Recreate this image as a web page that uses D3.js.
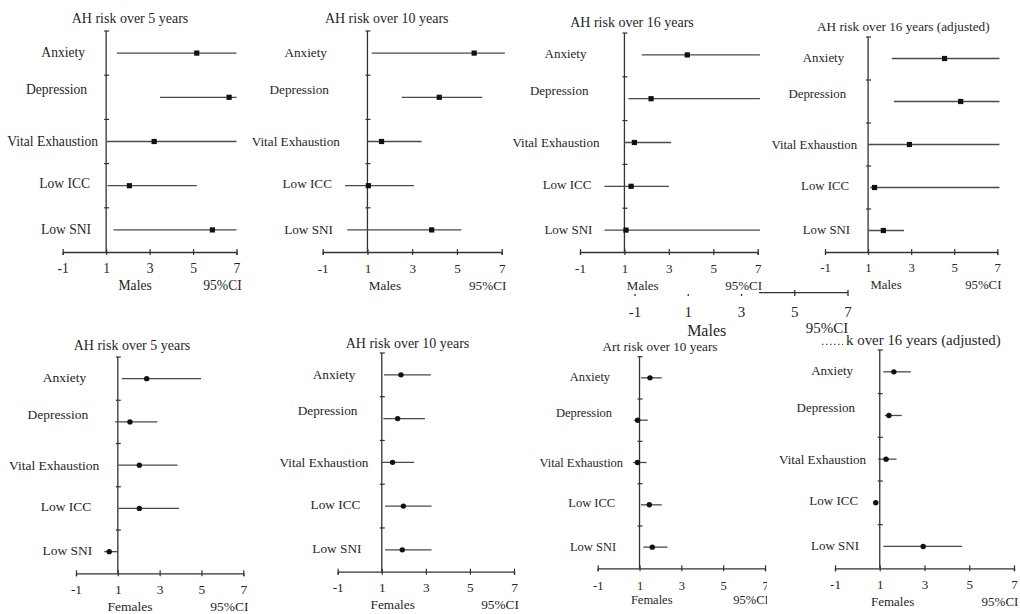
<!DOCTYPE html>
<html>
<head>
<meta charset="utf-8">
<script src="https://cdn.jsdelivr.net/npm/d3@7"></script>
<style>
  body { margin: 0; background: #fff; }
  svg { display: block; }
</style>
</head>
<body>
<div id="chart"></div>
<script>
// categories and axis ticks
const categories = ["Anxiety", "Depression", "Vital Exhaustion", "Low ICC", "Low SNI"];
const tickValues = [-1, 1, 3, 5, 7];

// males, point estimate / lower / upper 95% CI
const m5Est = [5.17, 6.66, 3.21, 2.07, 5.89];
const m5Lo  = [1.49, 3.48, 1.03, 1.06, 1.34];
const m5Hi  = [7.0, 7.0, 7.0, 5.17, 7.0];

const m10Est = [5.77, 4.21, 1.63, 1.04, 3.87];
const m10Lo  = [1.19, 2.53, 1.0, 0.0, 0.1];
const m10Hi  = [7.14, 6.13, 3.42, 3.08, 5.2];

const m16Est = [3.83, 2.2, 1.45, 1.3, 1.07];
const m16Lo  = [1.78, 1.18, 1.0, 0.1, 0.1];
const m16Hi  = [7.1, 7.1, 3.1, 3.0, 7.1];

const m16aEst = [4.55, 5.3, 2.92, 1.3, 1.71];
const m16aLo  = [2.1, 2.2, 1.0, 1.1, 1.0];
const m16aHi  = [7.1, 7.1, 7.1, 7.1, 2.67];

// females
const f5Est = [2.38, 1.58, 2.03, 2.03, 0.59];
const f5Lo  = [1.19, 0.87, 1.02, 1.02, 0.35];
const f5Hi  = [4.98, 2.89, 3.85, 3.93, 1.02];

const f10Est = [1.87, 1.72, 1.49, 1.98, 1.93];
const f10Lo  = [1.1, 1.07, 1.0, 1.15, 1.15];
const f10Hi  = [3.23, 2.96, 2.47, 3.26, 3.26];

const f16Est = [1.5, 0.91, 0.9, 1.47, 1.61];
const f16Lo  = [1.07, 0.74, 0.7, 1.07, 1.18];
const f16Hi  = [2.06, 1.39, 1.34, 2.06, 2.33];

const f16aEst = [1.63, 1.41, 1.28, 0.82, 2.94];
const f16aLo  = [1.16, 1.23, 0.93, 0.71, 1.16];
const f16aHi  = [2.39, 1.98, 1.75, 0.93, 4.68];

const FONT = "'Liberation Serif', 'Times New Roman', serif";
const TEXT = "#262626";

// label nudges per row (the original labels were hand placed)
const labelShift = [-3, -1, 10, 2, 3];
const labelDy = [-1, -8, 0, -2, -1];

let svg = d3.select("#chart").append("svg")
    .attr("width", 1020)
    .attr("height", 614);

let defs = svg.append("defs");

// panel layout, built from the arrays above
let panels = [
    {title: "AH risk over 5 years", sex: "Males", est: m5Est, lo: m5Lo, hi: m5Hi,
     x0: 62.7, x1: 236.5, top: 31, bottom: 252, tx: 130, ty: 18, fs: 13.6, gap: 18, sexDx: 29},
    {title: "AH risk over 10 years", sex: "Males", est: m10Est, lo: m10Lo, hi: m10Hi,
     x0: 322.7, x1: 501.7, top: 31, bottom: 252, tx: 386.7, ty: 18, fs: 13.2, gap: 37.5, sexDx: 17.5},
    {title: "AH risk over 16 years", sex: "Males", est: m16Est, lo: m16Lo, hi: m16Hi,
     x0: 580, x1: 757.7, top: 33, bottom: 252, tx: 632, ty: 22, fs: 13, gap: 35, sexDx: 18.3},
    {title: "AH risk over 16 years (adjusted)", sex: "Males", est: m16aEst, lo: m16aLo, hi: m16aHi,
     x0: 825, x1: 997.3, top: 37, bottom: 252, tx: 903.3, ty: 26.7, fs: 12.8, tfs: 13.2, gap: 21, sexDx: 18},
    {title: "AH risk over 5 years", sex: "Females", est: f5Est, lo: f5Lo, hi: f5Hi,
     x0: 76, x1: 243.3, top: 357, bottom: 573.3, tx: 132, ty: 345, fs: 13.5, gap: 28.5, sexDx: 12.2},
    {title: "AH risk over 10 years", sex: "Females", est: f10Est, lo: f10Lo, hi: f10Hi,
     x0: 337.7, x1: 514, top: 353, bottom: 571.7, tx: 407.5, ty: 342.7, fs: 13.3, gap: 23.3, sexDx: 10.9},
    {title: "Art risk over 10 years", sex: "Females", est: f16Est, lo: f16Lo, hi: f16Hi,
     x0: 597.7, x1: 765, top: 356.7, bottom: 568.3, tx: 660, ty: 346.5, fs: 12.5, tfs: 13.2, gap: 26.4, sexDx: 12.2,
     sexDy: 31, clipRight: 767},
    // title partly hidden in the original, only its tail shows
    {title: "k over 16 years (adjusted)", sex: "Females", est: f16aEst, lo: f16aLo, hi: f16aHi,
     x0: 835, x1: 1014, top: 350, bottom: 568.3, tx: 1000.7, ty: 339.8, anchor: "end", fs: 13, tfs: 14.9,
     gap: 23.7, sexDx: 12.9, remnant: [822, 843]}
];

panels.forEach(function (p, k) {
    let g = svg.append("g").attr("font-family", FONT).attr("fill", TEXT);
    if (p.clipRight) {
        defs.append("clipPath").attr("id", "clip" + k)
            .append("rect").attr("x", 0).attr("y", 0)
            .attr("width", p.clipRight).attr("height", 614);
        g.attr("clip-path", "url(#clip" + k + ")");
    }

    let x = d3.scaleLinear().domain([-1, 7]).range([p.x0, p.x1]);
    let y = d3.scaleBand().domain(categories).range([p.top, p.bottom]);
    let bw = y.bandwidth();
    let male = p.sex === "Males";

    // title
    g.append("text")
        .attr("x", p.tx).attr("y", p.ty).attr("dy", "0.35em")
        .attr("text-anchor", p.anchor || "middle")
        .attr("font-size", p.tfs || 14)
        .text(p.title);
    if (p.remnant) {
        // bottom specks of the covered start of the title
        g.append("line")
            .attr("x1", p.remnant[0]).attr("x2", p.remnant[1])
            .attr("y1", p.ty + 4.5).attr("y2", p.ty + 4.5)
            .attr("stroke", "#555").attr("stroke-width", 1.2)
            .attr("stroke-dasharray", "1.5,2.5");
    }

    // x axis
    let xAxis = d3.axisBottom(x).tickValues(tickValues)
        .tickFormat(function (d) { return String(d); })
        .tickSizeOuter(0).tickSize(3);
    let xg = g.append("g")
        .attr("transform", "translate(0," + p.bottom + ")")
        .call(xAxis);
    xg.attr("font-family", FONT).attr("font-size", p.fs);
    xg.select(".domain").attr("stroke", "#333").attr("stroke-width", 1.3);
    xg.selectAll(".tick line").attr("y1", -3).attr("y2", 3).attr("stroke", "#333").attr("stroke-width", 1.2);
    xg.selectAll(".tick text").attr("y", p.sexDy ? 17 : 16).attr("dy", "0.35em").attr("fill", TEXT);

    // vertical reference axis at 1
    g.append("line")
        .attr("x1", x(1)).attr("x2", x(1))
        .attr("y1", p.top).attr("y2", p.bottom)
        .attr("stroke", "#333").attr("stroke-width", 1.3);
    g.selectAll("line.ytick")
        .data(categories)
        .enter().append("line")
        .attr("class", "ytick")
        .attr("x1", x(1) - 2).attr("x2", x(1) + 3)
        .attr("y1", function (d) { return y(d); })
        .attr("y2", function (d) { return y(d); })
        .attr("stroke", "#333").attr("stroke-width", 1.2);

    // category labels
    g.selectAll("text.cat")
        .data(categories)
        .enter().append("text")
        .attr("class", "cat")
        .attr("x", function (d, i) { return x(1) - p.gap + labelShift[i]; })
        .attr("y", function (d, i) { return y(d) + bw / 2 + labelDy[i]; })
        .attr("dy", "0.35em")
        .attr("text-anchor", "end")
        .attr("font-size", p.fs)
        .text(function (d) { return d; });

    // confidence intervals
    g.selectAll("line.ci")
        .data(categories)
        .enter().append("line")
        .attr("class", "ci")
        .attr("x1", function (d, i) { return x(p.lo[i]); })
        .attr("x2", function (d, i) { return x(p.hi[i]); })
        .attr("y1", function (d) { return y(d) + bw / 2; })
        .attr("y2", function (d) { return y(d) + bw / 2; })
        .attr("stroke", "#4a4a4a").attr("stroke-width", 1.3);

    // point estimates
    if (male) {
        g.selectAll("rect.pt")
            .data(categories)
            .enter().append("rect")
            .attr("class", "pt")
            .attr("x", function (d, i) { return x(p.est[i]) - 2.6; })
            .attr("y", function (d) { return y(d) + bw / 2 - 2.6; })
            .attr("width", 5.2).attr("height", 5.2)
            .attr("fill", "#111");
    } else {
        g.selectAll("circle.pt")
            .data(categories)
            .enter().append("circle")
            .attr("class", "pt")
            .attr("cx", function (d, i) { return x(p.est[i]); })
            .attr("cy", function (d) { return y(d) + bw / 2; })
            .attr("r", 2.7)
            .attr("fill", "#111");
    }

    // axis captions
    let capY = p.bottom + (p.sexDy || 33);
    g.append("text")
        .attr("x", x(1) + p.sexDx).attr("y", capY).attr("dy", "0.35em")
        .attr("text-anchor", "middle").attr("font-size", p.fs)
        .text(p.sex);
    g.append("text")
        .attr("x", x(7) - 14).attr("y", capY).attr("dy", "0.35em")
        .attr("text-anchor", "middle").attr("font-size", p.fs)
        .text("95%CI");
});

// stray pasted axis fragment between the rows
let sx = d3.scaleLinear().domain([-1, 7]).range([635, 848]);
let stray = svg.append("g").attr("font-family", FONT).attr("fill", TEXT);
stray.append("line")
    .attr("x1", 759).attr("x2", sx(7))
    .attr("y1", 292.7).attr("y2", 292.7)
    .attr("stroke", "#333").attr("stroke-width", 1.3);
stray.selectAll("line.st")
    .data(tickValues)
    .enter().append("line")
    .attr("class", "st")
    .attr("x1", function (d) { return sx(d); })
    .attr("x2", function (d) { return sx(d); })
    .attr("y1", function (d) { return d >= 5 ? 290 : 294; })
    .attr("y2", 296)
    .attr("stroke", "#333").attr("stroke-width", 1.3);
stray.selectAll("text.st")
    .data(tickValues)
    .enter().append("text")
    .attr("class", "st")
    .attr("x", function (d) { return sx(d); })
    .attr("y", 312).attr("dy", "0.35em")
    .attr("text-anchor", "middle").attr("font-size", 15)
    .text(function (d) { return String(d); });
stray.append("text")
    .attr("x", 706.7).attr("y", 330).attr("dy", "0.35em")
    .attr("text-anchor", "middle").attr("font-size", 16)
    .text("Males");
stray.append("text")
    .attr("x", 827).attr("y", 328).attr("dy", "0.35em")
    .attr("text-anchor", "middle").attr("font-size", 15)
    .text("95%CI");
</script>
</body>
</html>
